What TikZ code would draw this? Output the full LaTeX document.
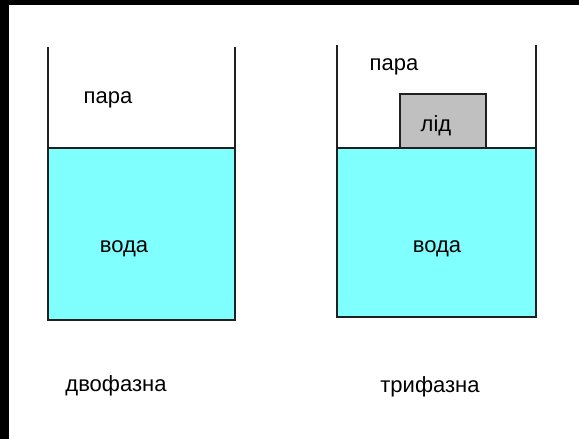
\documentclass[tikz,border=0pt]{standalone}
\usepackage{fontspec}
\setmainfont{Liberation Sans}
\definecolor{water}{HTML}{80FFFF}
\definecolor{ice}{HTML}{C0C0C0}
\definecolor{wall}{HTML}{202020}
\begin{document}
\begin{tikzpicture}[x=1pt,y=-1pt,
  wallline/.style={draw=wall,line width=1.8pt},
  lbl/.style={font=\fontsize{22}{26}\selectfont,inner sep=0pt,text=black}]
\useasboundingbox (0,0) rectangle (579,439);
\fill[black] (0,0) rectangle (579,439);
\fill[white] (9,5) rectangle (579,439);
% left container
\fill[water] (48,148) rectangle (235,320);
\draw[wallline] (48,47) -- (48,320) -- (235,320) -- (235,47);
\draw[wallline] (48,148) -- (235,148);
% right container
\fill[water] (337,148) rectangle (536,317);
\node[draw=wall,line width=1.5pt,fill=ice,minimum width=86pt,minimum height=54pt,inner sep=0pt] (ice) at (443,121) {};
\draw[wallline] (337,45) -- (337,317) -- (536,317) -- (536,45);
\draw[wallline] (337,148) -- (536,148);
% labels
\node[lbl] (p1) at (108,100) {пара};
\node[lbl] (w1) at (124,249) {вода};
\node[lbl] (p2) at (394,67) {пара};
\node[lbl] (l2) at (436,126) {лід};
\node[lbl] (w2) at (437,249) {вода};
\node[lbl] (c1) at (116,386) {двофазна};
\node[lbl] (c2) at (430,387) {трифазна};
\end{tikzpicture}
\end{document}
